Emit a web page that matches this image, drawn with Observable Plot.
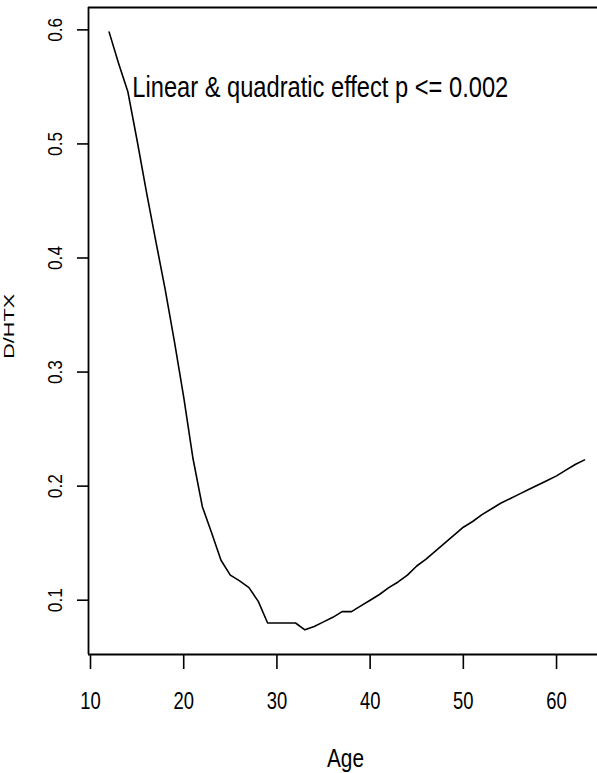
<!DOCTYPE html>
<html><head><meta charset="utf-8">
<script src="https://cdn.jsdelivr.net/npm/d3@7"></script>
<script src="https://cdn.jsdelivr.net/npm/@observablehq/plot@0.6"></script>
<style>
html,body{margin:0;padding:0;background:#fff;overflow:hidden}
#chart svg{display:block;overflow:hidden}
</style>
</head><body><div id="chart"></div>
<script>
// ---- data ----
const ages = [12,13,14,15,16,17,18,19,20,21,22,23,24,25,26,27,28,29,30,31,32,33,34,35,36,37,38,39,40,41,42,43,44,45,46,47,48,49,50,51,52,53,54,55,56,57,58,59,60,61,62,63];
const values = [0.598,0.571,0.546,0.503,0.458,0.415,0.373,0.327,0.278,0.224,0.182,0.159,0.135,0.122,0.117,0.111,0.099,0.080,0.080,0.080,0.080,0.074,0.077,0.081,0.085,0.090,0.090,0.095,0.100,0.105,0.111,0.116,0.122,0.130,0.136,0.143,0.150,0.157,0.164,0.169,0.175,0.180,0.185,0.189,0.193,0.197,0.201,0.205,0.209,0.214,0.219,0.223];
const xTicks = [10,20,30,40,50,60];
const yTicks = [0.1,0.2,0.3,0.4,0.5,0.6];
const xLabel = "Age";
const yLabel = "D/HTX";
const annotation = "Linear & quadratic effect p <= 0.002";
const annotationX = 34.65;
const annotationY = 0.55;

const data = ages.map((a, i) => ({age: a, v: values[i]}));
const xDomain = [9.785, 64.93];
const yDomain = [0.0524, 0.6196];
const font = "'Liberation Sans Narrow', 'Arial Narrow', 'Liberation Sans', Arial, sans-serif";

const plot = Plot.plot({
  width: 597,
  height: 773,
  marginLeft: 88,
  marginRight: -5,
  marginTop: 7,
  marginBottom: 119,
  style: {fontFamily: font, background: "#fff", color: "#000"},
  x: {domain: xDomain, axis: null},
  y: {domain: yDomain, axis: null},
  marks: [
    // box (top, bottom, left)
    Plot.ruleY([yDomain[1]], {stroke: "#000", strokeWidth: 1.8}),
    Plot.ruleY([yDomain[0]], {stroke: "#000", strokeWidth: 1.8}),
    Plot.ruleX([xDomain[0]], {stroke: "#000", strokeWidth: 1.8}),
    // x axis
    Plot.axisX({ticks: xTicks, tickSize: 15, tickPadding: 23, fontSize: 23, tickFormat: d => String(d), stroke: "#000", strokeWidth: 1.6, anchor: "bottom", label: null}),
    // y axis ticks + rotated labels
    Plot.axisY({ticks: yTicks, tickSize: 11, tickFormat: () => "", stroke: "#000", strokeWidth: 1.6, anchor: "left", label: null}),
    Plot.text(yTicks, {y: d => d, frameAnchor: "left", dx: -26.5, rotate: -90, lineAnchor: "bottom", textAnchor: "middle", text: d => d.toFixed(1), fontSize: 21, fill: "#000"}),
    // axis titles
    Plot.text([xLabel], {frameAnchor: "bottom", dy: 112, lineAnchor: "bottom", text: d => d, fontSize: 25, fill: "#000"}),
    Plot.text([yLabel], {frameAnchor: "left", dx: -74.7, dy: -4.7, rotate: -90, lineAnchor: "bottom", textAnchor: "middle", text: d => d, fontSize: 15, fill: "#000"}),
    // curve
    Plot.line(data, {x: "age", y: "v", stroke: "#000", strokeWidth: 1.6}),
    // annotation
    Plot.text([annotation], {x: () => annotationX, y: () => annotationY, text: d => d, fontSize: 30, lineAnchor: "middle", textAnchor: "middle", fill: "#000"})
  ]
});

document.getElementById("chart").appendChild(plot);

// give each text the (condensed) length it has in the reference
const lengths = new Map([[annotation, 376], [xLabel, 37], [yLabel, 65]]);
xTicks.forEach(t => lengths.set(String(t), 20.5));
yTicks.forEach(t => lengths.set(t.toFixed(1), 24));
plot.querySelectorAll("text").forEach(t => {
  const L = lengths.get(t.textContent);
  if (!L) return;
  const natural = t.getComputedTextLength();
  if (!natural) return;
  const s = L / natural;
  let tr = t.getAttribute("transform");
  if (!tr) {
    const x = +t.getAttribute("x") || 0, y = +t.getAttribute("y") || 0;
    t.removeAttribute("x"); t.removeAttribute("y");
    tr = `translate(${x},${y})`;
  }
  t.setAttribute("transform", `${tr} scale(${s.toFixed(4)},1)`);
});
</script>
</body></html>
